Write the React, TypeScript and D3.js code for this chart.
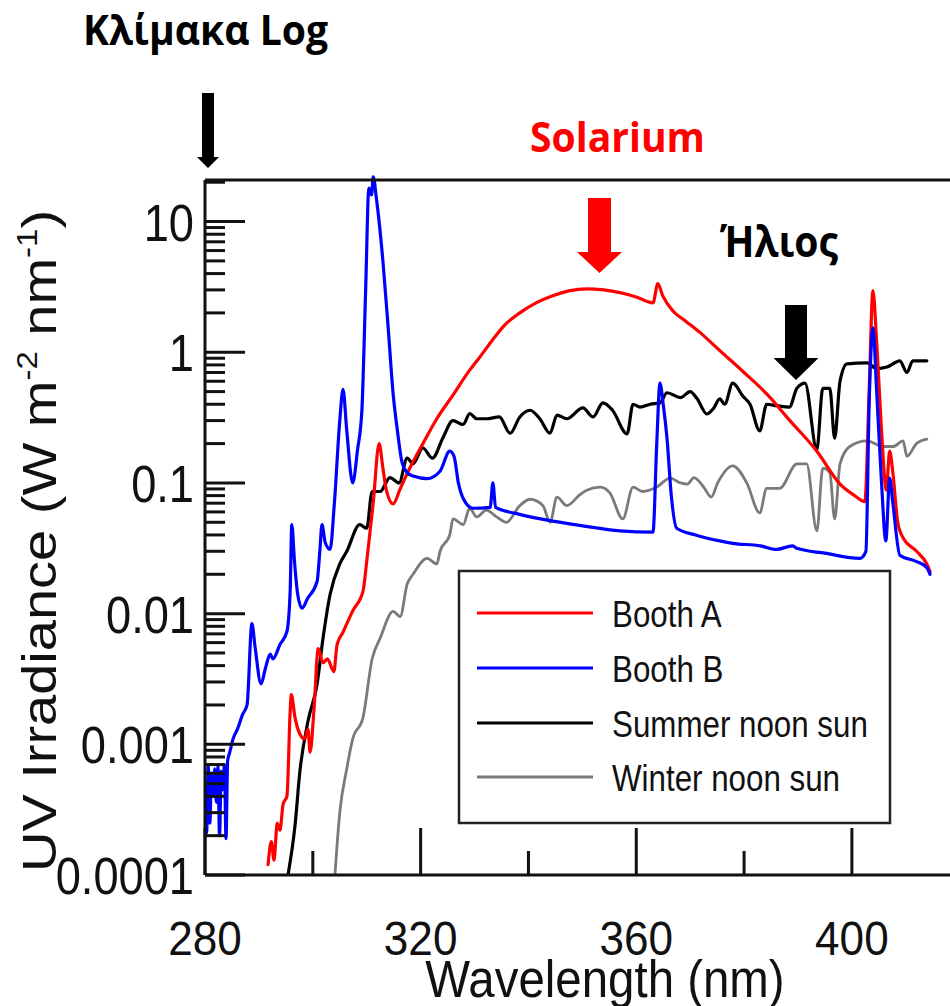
import React from 'react';
import * as d3 from 'd3';

// ---------- data (wavelength nm, irradiance W m-2 nm-1) ----------
const xMajorTicks = [280, 320, 360, 400];
const xMinorTicks = [300, 340, 380];
const yTickValues = [1e-4, 1e-3, 1e-2, 1e-1, 1, 10];
const yTickLabels = ['0.0001', '0.001', '0.01', '0.1', '1', '10'];

const boothA: [number, number][] = [
  [291.7, 0.00012], [292.3, 0.00018], [292.8, 0.00013], [293.4, 0.00025], [293.9, 0.00022],
  [294.5, 0.00035], [295.2, 0.0004], [295.8, 0.0018], [296.0, 0.0024], [296.7, 0.0016],
  [297.6, 0.0012], [298.5, 0.0011], [299.1, 0.0013], [299.5, 0.00087], [300.2, 0.0018],
  [301.0, 0.0054], [301.9, 0.0042], [302.7, 0.0045], [303.9, 0.0036], [304.5, 0.0058],
  [305.6, 0.0072], [307.4, 0.0105], [309.3, 0.0148], [310.0, 0.025], [311.2, 0.07],
  [312.3, 0.2], [313.0, 0.13], [313.6, 0.09], [314.9, 0.069], [316.2, 0.09], [318.0, 0.13],
  [320.4, 0.199], [323.0, 0.31], [326.0, 0.47], [329.0, 0.72], [331.0, 0.92], [333.2, 1.22],
  [335.5, 1.6], [338.4, 2.0], [341.5, 2.4], [344.5, 2.71], [347.5, 2.95], [350.8, 3.06],
  [354.0, 3.0], [357.0, 2.86], [360.0, 2.65], [363.1, 2.39], [364.0, 3.35], [364.9, 2.71],
  [366.8, 2.07], [369.0, 1.75], [371.8, 1.42], [375.5, 1.03], [380.0, 0.7], [384.2, 0.48],
  [388.5, 0.3], [393.5, 0.175], [397.8, 0.098], [400.5, 0.08], [402.4, 0.072], [403.2, 0.5],
  [403.9, 2.96], [404.6, 1.2], [405.5, 0.25], [406.4, 0.088], [407.0, 0.175], [407.6, 0.12],
  [408.5, 0.05], [409.5, 0.038], [412.0, 0.03], [413.9, 0.024], [414.5, 0.021],
];

const boothB: [number, number][] = [
  [280.0, 0.00043], [280.3, 0.00021], [280.6, 0.00068], [280.9, 0.00025], [281.2, 0.0006],
  [281.5, 0.0004], [281.8, 0.00065], [282.1, 0.00036], [282.4, 0.00068], [282.7, 0.0002],
  [283.0, 0.00062], [283.3, 0.00045], [283.6, 0.0007], [283.9, 0.00019], [284.2, 0.00075],
  [284.6, 0.00087], [285.2, 0.0011], [286.0, 0.0013], [287.0, 0.0017], [287.8, 0.002],
  [288.7, 0.0084], [289.3, 0.0055], [290.4, 0.0029], [291.2, 0.0038], [292.1, 0.0049],
  [292.6, 0.0045], [293.9, 0.0058], [295.2, 0.0073], [295.8, 0.015], [296.1, 0.048],
  [296.6, 0.025], [297.2, 0.014], [298.0, 0.011], [299.0, 0.013], [300.8, 0.0177],
  [301.3, 0.03], [301.7, 0.048], [302.3, 0.035], [303.2, 0.031], [304.0, 0.07], [305.0, 0.3],
  [305.6, 0.52], [306.3, 0.25], [307.4, 0.1], [308.3, 0.18], [309.1, 0.356], [309.8, 3],
  [310.4, 18], [310.9, 16], [311.2, 22], [311.8, 15], [313.0, 5.0], [314.0, 1.5], [314.9, 0.48],
  [315.7, 0.25], [316.5, 0.147], [317.5, 0.12], [318.6, 0.113], [321.2, 0.108], [323.6, 0.123],
  [325.4, 0.175], [326.2, 0.16], [327.0, 0.1], [327.9, 0.076], [329.7, 0.064], [332.9, 0.065],
  [333.4, 0.1], [333.9, 0.065], [338.0, 0.058], [344.5, 0.051], [350.0, 0.047], [357.0, 0.043],
  [363.1, 0.042], [363.8, 0.2], [364.4, 0.58], [365.0, 0.4], [365.7, 0.22], [366.5, 0.08],
  [367.5, 0.045], [371.0, 0.04], [375.5, 0.036], [377.9, 0.0345], [383.0, 0.033], [386.0, 0.031],
  [389.0, 0.033], [389.8, 0.0316], [395.0, 0.029], [401.5, 0.0265], [402.6, 0.03], [403.2, 0.4],
  [403.9, 1.54], [404.6, 0.5], [405.5, 0.1], [406.3, 0.036], [407.0, 0.109], [407.6, 0.07],
  [408.9, 0.028], [412.0, 0.025], [413.9, 0.0225], [414.5, 0.02],
];

const summerSun: [number, number][] = [
  [295.4, 0.0001], [296.7, 0.00024], [297.6, 0.00062], [299.1, 0.0015], [300.8, 0.0029],
  [301.9, 0.0065], [303.2, 0.014], [305.0, 0.024], [306.3, 0.03], [308.7, 0.048], [310.0, 0.045],
  [311.0, 0.086], [312.5, 0.086], [314.3, 0.11], [316.0, 0.1], [317.5, 0.155], [318.6, 0.14],
  [320.4, 0.185], [322.2, 0.155], [324.1, 0.22], [326.0, 0.3], [327.9, 0.28], [329.1, 0.34],
  [330.4, 0.31], [332.2, 0.31], [334.6, 0.32], [336.6, 0.24], [338.4, 0.32], [340.3, 0.36],
  [342.1, 0.31], [344.0, 0.24], [345.3, 0.33], [347.1, 0.31], [350.1, 0.375], [352.0, 0.32],
  [353.8, 0.41], [355.6, 0.36], [358.3, 0.237], [359.4, 0.4], [360.7, 0.38], [362.6, 0.4],
  [364.4, 0.41], [365.7, 0.49], [368.2, 0.45], [370.0, 0.5], [371.3, 0.44], [373.1, 0.337],
  [374.3, 0.37], [375.5, 0.44], [376.4, 0.4], [377.9, 0.58], [379.8, 0.46], [381.1, 0.4],
  [382.9, 0.25], [384.2, 0.4], [386.0, 0.39], [388.4, 0.38], [389.8, 0.53], [391.3, 0.58],
  [393.5, 0.18], [394.6, 0.53], [395.9, 0.53], [396.8, 0.22], [397.8, 0.6], [399.1, 0.815],
  [402.8, 0.83], [404.6, 0.75], [406.5, 0.77], [408.9, 0.86], [410.2, 0.7], [411.3, 0.86],
  [413.9, 0.86],
];

const winterSun: [number, number][] = [
  [304.1, 0.0001], [305.0, 0.0003], [306.3, 0.00065], [307.4, 0.0011], [309.3, 0.0016],
  [311.0, 0.0045], [312.5, 0.0065], [314.9, 0.0104], [316.2, 0.0095], [317.5, 0.0168],
  [318.6, 0.02], [321.2, 0.0265], [323.0, 0.024], [323.6, 0.03], [325.4, 0.04], [326.0, 0.053],
  [327.9, 0.048], [329.1, 0.064], [330.4, 0.055], [332.2, 0.062], [334.1, 0.055], [335.9, 0.05],
  [338.4, 0.067], [340.3, 0.075], [342.7, 0.067], [344.0, 0.05], [345.3, 0.078], [347.1, 0.067],
  [349.5, 0.081], [350.8, 0.088], [353.3, 0.093], [355.1, 0.084], [357.5, 0.053], [359.4, 0.093],
  [361.2, 0.086], [363.8, 0.093], [366.3, 0.109], [368.2, 0.1], [369.5, 0.098], [370.7, 0.11],
  [372.5, 0.093], [373.9, 0.078], [375.1, 0.1], [377.9, 0.135], [380.5, 0.1], [382.9, 0.059],
  [384.2, 0.091], [386.6, 0.091], [389.8, 0.14], [391.6, 0.14], [393.5, 0.043], [394.6, 0.13],
  [395.9, 0.12], [396.8, 0.053], [397.8, 0.14], [399.6, 0.19], [402.8, 0.21], [405.8, 0.19],
  [407.7, 0.19], [409.5, 0.21], [410.2, 0.16], [412.0, 0.2], [413.9, 0.216],
];

const seriesNames = ['Booth A', 'Booth B', 'Summer noon sun', 'Winter noon sun'];
const seriesColors = ['#ff0000', '#0000ff', '#000000', '#7a7a7a'];
const seriesData = [boothA, boothB, summerSun, winterSun];
const drawOrder = [3, 2, 0, 1];

// ---------- layout ----------
const W = 950;
const H = 1006;
const left = 205;
const right = 950;
const top = 180;
const bottom = 875;
const SQ = 0.87; // horizontal squeeze of the original picture
const FONT = "'Liberation Sans', Arial, Helvetica, sans-serif";
const BOLD = "'Open Sans', 'Noto Sans', sans-serif";

export default function App() {
  const x = d3.scaleLinear().domain([280, 418.2]).range([left, right]);
  const y = d3.scaleLog().domain([1e-4, 20.8]).range([bottom, top]);

  const line = d3
    .line<[number, number]>()
    .x((d) => x(d[0]))
    .y((d) => y(d[1]))
    .curve(d3.curveMonotoneX);

  const minorY: number[] = [];
  for (let e = -4; e <= 1; e++) {
    for (let m = 2; m <= 9; m++) {
      const v = m * Math.pow(10, e);
      if (v <= 20.8) minorY.push(v);
    }
  }

  const legendY = [613, 668, 723, 777];

  const arrow = (cx: number, y0: number, y1: number, sw: number, hw: number, hh: number) =>
    `M${cx - sw / 2},${y0} L${cx + sw / 2},${y0} L${cx + sw / 2},${y1 - hh} L${cx + hw / 2},${y1 - hh} L${cx},${y1} L${cx - hw / 2},${y1 - hh} L${cx - sw / 2},${y1 - hh} Z`;

  return (
    <svg
      width={W}
      height={H}
      style={{ position: 'absolute', left: 0, top: 0, background: '#fff' }}
    >
      <rect x={0} y={0} width={W} height={H} fill="#fff" />
      <defs>
        <clipPath id="plotClip">
          <rect x={left} y={165} width={right - left} height={bottom - 165} />
        </clipPath>
      </defs>

      {/* series */}
      <g clipPath="url(#plotClip)" fill="none" strokeLinejoin="round" strokeLinecap="round">
        {drawOrder.map((i) => (
          <path
            key={seriesNames[i]}
            d={line(seriesData[i]) || ''}
            stroke={seriesColors[i]}
            strokeWidth={i === 3 ? 2.8 : 3.2}
          />
        ))}
      </g>

      {/* frame */}
      <g stroke="#111" strokeWidth={3} fill="none">
        <line x1={left} y1={top} x2={right} y2={top} />
        <line x1={left} y1={top} x2={left} y2={bottom} />
        <line x1={left} y1={bottom} x2={right} y2={bottom} />
      </g>

      {/* y ticks */}
      <g stroke="#111" strokeWidth={3}>
        {yTickValues.map((v) => (
          <line key={'M' + v} x1={left} x2={left + 40} y1={y(v)} y2={y(v)} />
        ))}
        {minorY.map((v) => (
          <line key={'m' + v} x1={left} x2={left + 20} y1={y(v)} y2={y(v)} />
        ))}
      </g>
      {/* x ticks */}
      <g stroke="#111" strokeWidth={3}>
        {xMajorTicks.map((v) => (
          <line key={'X' + v} x1={x(v)} x2={x(v)} y1={bottom} y2={bottom - 47} />
        ))}
        {xMinorTicks.map((v) => (
          <line key={'x' + v} x1={x(v)} x2={x(v)} y1={bottom} y2={bottom - 24} />
        ))}
      </g>

      {/* tick labels */}
      <g fontFamily={FONT} fill="#111">
        {yTickValues.map((v, i) => (
          <text
            key={'yl' + v}
            transform={`translate(194,${y(v) + 19}) scale(${SQ},1)`}
            textAnchor="end"
            fontSize={52}
          >
            {yTickLabels[i]}
          </text>
        ))}
        {xMajorTicks.map((v) => (
          <text
            key={'xl' + v}
            transform={`translate(${x(v)},955) scale(0.9,1)`}
            textAnchor="middle"
            fontSize={49}
          >
            {v}
          </text>
        ))}
      </g>

      {/* axis titles */}
      <text
        transform={`translate(605,997) scale(0.93,1)`}
        textAnchor="middle"
        fontFamily={FONT}
        fontSize={51}
        fill="#111"
      >
        Wavelength (nm)
      </text>
      <text
        transform={`translate(56,541) scale(${SQ},1) rotate(-90)`}
        textAnchor="middle"
        fontFamily={FONT}
        fontSize={56}
        fill="#111"
      >
        UV Irradiance (W m
        <tspan fontSize={33} dy={-22}>-2</tspan>
        <tspan dy={22}> nm</tspan>
        <tspan fontSize={33} dy={-22}>-1</tspan>
        <tspan dy={22}>)</tspan>
      </text>

      {/* legend */}
      <rect x={459} y={571} width={431} height={252} fill="#fff" stroke="#222" strokeWidth={2.5} />
      {seriesNames.map((name, i) => (
        <g key={'lg' + name}>
          <line
            x1={477}
            x2={593}
            y1={legendY[i]}
            y2={legendY[i]}
            stroke={seriesColors[i]}
            strokeWidth={3}
          />
          <text
            transform={`translate(612,${legendY[i] + 14}) scale(${SQ},1)`}
            fontFamily={FONT}
            fontSize={36}
            fill="#111"
          >
            {name}
          </text>
        </g>
      ))}

      {/* annotations */}
      <text x={83} y={45} fontFamily={BOLD} fontWeight={700} fontSize={41} fill="#000"
        textLength={245} lengthAdjust="spacingAndGlyphs">
        Κλίμακα Log
      </text>
      <path d={arrow(208, 93, 168, 12, 22, 11)} fill="#000" />

      <text x={530} y={152} fontFamily={BOLD} fontWeight={700} fontSize={41} fill="#ff0000"
        textLength={175} lengthAdjust="spacingAndGlyphs">
        Solarium
      </text>
      <path d={arrow(599.5, 198, 273, 23, 45, 21)} fill="#ff0000" />

      <text x={720} y={257} fontFamily={BOLD} fontWeight={700} fontSize={43} fill="#000"
        textLength={118} lengthAdjust="spacingAndGlyphs">
        Ήλιος
      </text>
      <path d={arrow(796, 305, 380, 22, 45, 22)} fill="#000" />
    </svg>
  );
}
